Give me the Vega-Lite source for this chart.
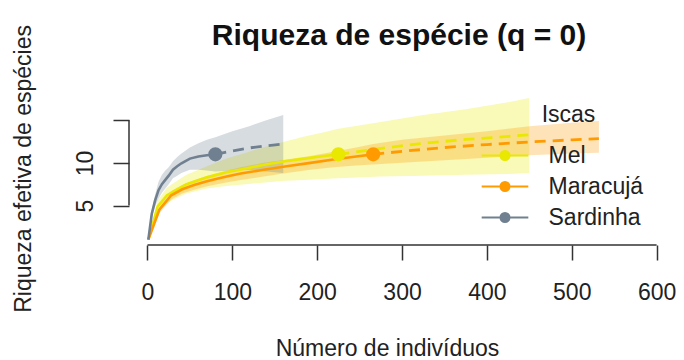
{
  "$schema": "https://vega.github.io/schema/vega-lite/v6.json",
  "autosize": {"type": "none"},
  "width": 550,
  "height": 153,
  "padding": {"left": 129, "top": 92, "right": 5, "bottom": 115},
  "background": "white",
  "config": {
    "view": {"stroke": null},
    "font": "Liberation Sans",
    "axis": {"grid": false, "domain": false}
  },
  "title": {
    "text": "Riqueza de espécie (q = 0)",
    "font": "Liberation Sans",
    "fontSize": 30,
    "fontWeight": "bold",
    "color": "#111111",
    "anchor": "middle",
    "frame": "group",
    "baseline": "alphabetic",
    "offset": -50,
    "dx": -5
  },
  "datasets": {
    "bands": [
      {"Iscas": "Mel", "n": 1, "lo": 1, "hi": 1},
      {"Iscas": "Mel", "n": 12, "lo": 4.2, "hi": 5.6},
      {"Iscas": "Mel", "n": 23, "lo": 5.3, "hi": 7.1},
      {"Iscas": "Mel", "n": 35, "lo": 5.9, "hi": 7.9},
      {"Iscas": "Mel", "n": 46, "lo": 6.4, "hi": 8.6},
      {"Iscas": "Mel", "n": 58, "lo": 6.7, "hi": 9.1},
      {"Iscas": "Mel", "n": 70, "lo": 7.0, "hi": 9.6},
      {"Iscas": "Mel", "n": 93, "lo": 7.3, "hi": 10.5},
      {"Iscas": "Mel", "n": 116, "lo": 7.5, "hi": 11.2},
      {"Iscas": "Mel", "n": 139, "lo": 7.7, "hi": 11.9},
      {"Iscas": "Mel", "n": 162, "lo": 7.9, "hi": 12.5},
      {"Iscas": "Mel", "n": 185, "lo": 8.0, "hi": 13.1},
      {"Iscas": "Mel", "n": 208, "lo": 8.1, "hi": 13.6},
      {"Iscas": "Mel", "n": 225, "lo": 8.2, "hi": 14.0},
      {"Iscas": "Mel", "n": 275, "lo": 8.4, "hi": 14.8},
      {"Iscas": "Mel", "n": 325, "lo": 8.5, "hi": 15.6},
      {"Iscas": "Mel", "n": 375, "lo": 8.6, "hi": 16.3},
      {"Iscas": "Mel", "n": 425, "lo": 8.7, "hi": 17.1},
      {"Iscas": "Mel", "n": 450, "lo": 8.8, "hi": 17.6},
      {"Iscas": "Maracujá", "n": 1, "lo": 1, "hi": 1},
      {"Iscas": "Maracujá", "n": 14, "lo": 4.1, "hi": 4.9},
      {"Iscas": "Maracujá", "n": 28, "lo": 5.7, "hi": 6.7},
      {"Iscas": "Maracujá", "n": 41, "lo": 6.4, "hi": 7.4},
      {"Iscas": "Maracujá", "n": 55, "lo": 6.85, "hi": 7.95},
      {"Iscas": "Maracujá", "n": 68, "lo": 7.2, "hi": 8.4},
      {"Iscas": "Maracujá", "n": 82, "lo": 7.5, "hi": 8.8},
      {"Iscas": "Maracujá", "n": 96, "lo": 7.75, "hi": 9.15},
      {"Iscas": "Maracujá", "n": 110, "lo": 8.0, "hi": 9.5},
      {"Iscas": "Maracujá", "n": 137, "lo": 8.4, "hi": 10.0},
      {"Iscas": "Maracujá", "n": 164, "lo": 8.8, "hi": 10.4},
      {"Iscas": "Maracujá", "n": 192, "lo": 9.2, "hi": 10.8},
      {"Iscas": "Maracujá", "n": 219, "lo": 9.5, "hi": 11.3},
      {"Iscas": "Maracujá", "n": 246, "lo": 9.7, "hi": 11.8},
      {"Iscas": "Maracujá", "n": 266, "lo": 9.8, "hi": 12.2},
      {"Iscas": "Maracujá", "n": 300, "lo": 10.0, "hi": 12.7},
      {"Iscas": "Maracujá", "n": 350, "lo": 10.3, "hi": 13.2},
      {"Iscas": "Maracujá", "n": 400, "lo": 10.6, "hi": 13.7},
      {"Iscas": "Maracujá", "n": 450, "lo": 10.9, "hi": 14.3},
      {"Iscas": "Maracujá", "n": 500, "lo": 11.1, "hi": 14.7},
      {"Iscas": "Maracujá", "n": 532, "lo": 11.2, "hi": 14.9},
      {"Iscas": "Sardinha", "n": 1, "lo": 1, "hi": 1},
      {"Iscas": "Sardinha", "n": 5, "lo": 3.6, "hi": 4.4},
      {"Iscas": "Sardinha", "n": 9, "lo": 4.9, "hi": 6.3},
      {"Iscas": "Sardinha", "n": 13, "lo": 5.8, "hi": 7.8},
      {"Iscas": "Sardinha", "n": 17, "lo": 6.5, "hi": 8.6},
      {"Iscas": "Sardinha", "n": 21, "lo": 7.0, "hi": 9.1},
      {"Iscas": "Sardinha", "n": 25, "lo": 7.5, "hi": 9.5},
      {"Iscas": "Sardinha", "n": 30, "lo": 8.2, "hi": 10.2},
      {"Iscas": "Sardinha", "n": 35, "lo": 8.5, "hi": 10.7},
      {"Iscas": "Sardinha", "n": 40, "lo": 8.8, "hi": 11.1},
      {"Iscas": "Sardinha", "n": 50, "lo": 9.2, "hi": 11.8},
      {"Iscas": "Sardinha", "n": 60, "lo": 9.2, "hi": 12.3},
      {"Iscas": "Sardinha", "n": 70, "lo": 9.1, "hi": 12.7},
      {"Iscas": "Sardinha", "n": 80, "lo": 9.0, "hi": 13.0},
      {"Iscas": "Sardinha", "n": 100, "lo": 9.1, "hi": 13.7},
      {"Iscas": "Sardinha", "n": 120, "lo": 9.2, "hi": 14.3},
      {"Iscas": "Sardinha", "n": 140, "lo": 9.0, "hi": 15.0},
      {"Iscas": "Sardinha", "n": 160, "lo": 8.8, "hi": 15.6}
    ],
    "curves": [
      {"Iscas": "Mel", "tipo": "interp", "n": 1, "S": 1},
      {"Iscas": "Mel", "tipo": "interp", "n": 12, "S": 4.9},
      {"Iscas": "Mel", "tipo": "interp", "n": 23, "S": 6.2},
      {"Iscas": "Mel", "tipo": "interp", "n": 35, "S": 6.9},
      {"Iscas": "Mel", "tipo": "interp", "n": 46, "S": 7.5},
      {"Iscas": "Mel", "tipo": "interp", "n": 58, "S": 7.9},
      {"Iscas": "Mel", "tipo": "interp", "n": 70, "S": 8.3},
      {"Iscas": "Mel", "tipo": "interp", "n": 93, "S": 8.9},
      {"Iscas": "Mel", "tipo": "interp", "n": 116, "S": 9.35},
      {"Iscas": "Mel", "tipo": "interp", "n": 139, "S": 9.8},
      {"Iscas": "Mel", "tipo": "interp", "n": 162, "S": 10.2},
      {"Iscas": "Mel", "tipo": "interp", "n": 185, "S": 10.5},
      {"Iscas": "Mel", "tipo": "interp", "n": 208, "S": 10.8},
      {"Iscas": "Mel", "tipo": "interp", "n": 225, "S": 11.0},
      {"Iscas": "Mel", "tipo": "extrap", "n": 225, "S": 11.0},
      {"Iscas": "Mel", "tipo": "extrap", "n": 275, "S": 11.7},
      {"Iscas": "Mel", "tipo": "extrap", "n": 325, "S": 12.3},
      {"Iscas": "Mel", "tipo": "extrap", "n": 375, "S": 12.75},
      {"Iscas": "Mel", "tipo": "extrap", "n": 425, "S": 13.1},
      {"Iscas": "Mel", "tipo": "extrap", "n": 450, "S": 13.3},
      {"Iscas": "Maracujá", "tipo": "interp", "n": 1, "S": 1},
      {"Iscas": "Maracujá", "tipo": "interp", "n": 14, "S": 4.5},
      {"Iscas": "Maracujá", "tipo": "interp", "n": 28, "S": 6.2},
      {"Iscas": "Maracujá", "tipo": "interp", "n": 41, "S": 6.9},
      {"Iscas": "Maracujá", "tipo": "interp", "n": 55, "S": 7.4},
      {"Iscas": "Maracujá", "tipo": "interp", "n": 68, "S": 7.8},
      {"Iscas": "Maracujá", "tipo": "interp", "n": 82, "S": 8.15},
      {"Iscas": "Maracujá", "tipo": "interp", "n": 96, "S": 8.45},
      {"Iscas": "Maracujá", "tipo": "interp", "n": 110, "S": 8.75},
      {"Iscas": "Maracujá", "tipo": "interp", "n": 137, "S": 9.2},
      {"Iscas": "Maracujá", "tipo": "interp", "n": 164, "S": 9.6},
      {"Iscas": "Maracujá", "tipo": "interp", "n": 192, "S": 10.0},
      {"Iscas": "Maracujá", "tipo": "interp", "n": 219, "S": 10.4},
      {"Iscas": "Maracujá", "tipo": "interp", "n": 246, "S": 10.75},
      {"Iscas": "Maracujá", "tipo": "interp", "n": 266, "S": 11.0},
      {"Iscas": "Maracujá", "tipo": "extrap", "n": 266, "S": 11.0},
      {"Iscas": "Maracujá", "tipo": "extrap", "n": 300, "S": 11.35},
      {"Iscas": "Maracujá", "tipo": "extrap", "n": 350, "S": 11.8},
      {"Iscas": "Maracujá", "tipo": "extrap", "n": 400, "S": 12.15},
      {"Iscas": "Maracujá", "tipo": "extrap", "n": 450, "S": 12.45},
      {"Iscas": "Maracujá", "tipo": "extrap", "n": 500, "S": 12.7},
      {"Iscas": "Maracujá", "tipo": "extrap", "n": 532, "S": 12.85},
      {"Iscas": "Sardinha", "tipo": "interp", "n": 1, "S": 1},
      {"Iscas": "Sardinha", "tipo": "interp", "n": 5, "S": 4.0},
      {"Iscas": "Sardinha", "tipo": "interp", "n": 9, "S": 5.6},
      {"Iscas": "Sardinha", "tipo": "interp", "n": 13, "S": 6.8},
      {"Iscas": "Sardinha", "tipo": "interp", "n": 17, "S": 7.5},
      {"Iscas": "Sardinha", "tipo": "interp", "n": 21, "S": 8.0},
      {"Iscas": "Sardinha", "tipo": "interp", "n": 25, "S": 8.5},
      {"Iscas": "Sardinha", "tipo": "interp", "n": 30, "S": 9.2},
      {"Iscas": "Sardinha", "tipo": "interp", "n": 35, "S": 9.6},
      {"Iscas": "Sardinha", "tipo": "interp", "n": 40, "S": 9.95},
      {"Iscas": "Sardinha", "tipo": "interp", "n": 50, "S": 10.5},
      {"Iscas": "Sardinha", "tipo": "interp", "n": 60, "S": 10.75},
      {"Iscas": "Sardinha", "tipo": "interp", "n": 70, "S": 10.9},
      {"Iscas": "Sardinha", "tipo": "interp", "n": 80, "S": 11.0},
      {"Iscas": "Sardinha", "tipo": "extrap", "n": 80, "S": 11.0},
      {"Iscas": "Sardinha", "tipo": "extrap", "n": 100, "S": 11.4},
      {"Iscas": "Sardinha", "tipo": "extrap", "n": 120, "S": 11.75},
      {"Iscas": "Sardinha", "tipo": "extrap", "n": 140, "S": 12.0},
      {"Iscas": "Sardinha", "tipo": "extrap", "n": 160, "S": 12.2}
    ],
    "obs": [
      {"Iscas": "Mel", "n": 225, "S": 11.0},
      {"Iscas": "Maracujá", "n": 266, "S": 11.0},
      {"Iscas": "Sardinha", "n": 80, "S": 11.0}
    ]
  },
  "layer": [
    {
      "data": {"name": "bands"},
      "mark": {"type": "area", "opacity": 0.28},
      "encoding": {
        "x": {
          "field": "n", "type": "quantitative",
          "scale": {"domain": [-21.8, 626.4], "nice": false, "zero": false},
          "axis": {
            "values": [0, 100, 200, 300, 400, 500, 600],
            "tickSize": 15, "tickColor": "#333333", "tickWidth": 1.5,
            "labelFont": "Liberation Sans", "labelFontSize": 23, "labelColor": "#222222",
            "labelBaseline": "alphabetic", "labelPadding": 39, "labelFlush": false, "labelOverlap": false,
            "title": "Número de indivíduos",
            "titleFont": "Liberation Sans", "titleFontSize": 23, "titleFontWeight": "normal", "titleColor": "#222222",
            "titleX": 258, "titleY": 110.5, "titleAlign": "center", "titleBaseline": "alphabetic"
          }
        },
        "y": {
          "field": "lo", "type": "quantitative",
          "scale": {"domain": [0.37, 18.31], "nice": false, "zero": false},
          "axis": {
            "values": [5, 10, 15],
            "labelExpr": "datum.value == 15 ? '' : datum.label",
            "tickSize": 16, "tickColor": "#333333", "tickWidth": 1.5,
            "labelFont": "Liberation Sans", "labelFontSize": 23, "labelColor": "#222222",
            "labelAngle": -90, "labelAlign": "center", "labelBaseline": "alphabetic", "labelPadding": 21, "labelOverlap": false, "labelFlush": false,
            "title": "Riqueza efetiva de espécies",
            "titleFont": "Liberation Sans", "titleFontSize": 23, "titleFontWeight": "normal", "titleColor": "#222222",
            "titleX": -99, "titleY": 76.4, "titleAngle": -90, "titleAlign": "center", "titleBaseline": "alphabetic"
          }
        },
        "y2": {"field": "hi"},
        "color": {
          "field": "Iscas", "type": "nominal",
          "scale": {"domain": ["Mel", "Maracujá", "Sardinha"], "range": ["#E8E800", "#FF9B00", "#708090"]},
          "legend": {
            "orient": "none", "legendX": 364.5, "legendY": 12,
            "title": "Iscas",
            "titleFont": "Liberation Sans", "titleFontSize": 23, "titleFontWeight": "normal", "titleColor": "#222222",
            "titleAnchor": "middle", "titlePadding": 17,
            "labelFont": "Liberation Sans", "labelFontSize": 23, "labelColor": "#222222", "labelOffset": 32,
            "symbolType": "M-4.24,0L4.24,0M-0.82,0A0.82,0.82,0,1,1,0.82,0A0.82,0.82,0,1,1,-0.82,0Z",
            "symbolSize": 121, "symbolStrokeWidth": 2, "symbolOpacity": 1, "rowPadding": 7, "padding": 0,
            "encode": {
              "symbols": {
                "update": {
                  "fill": {"scale": "color", "field": "value"},
                  "stroke": {"scale": "color", "field": "value"},
                  "opacity": {"value": 1},
                  "fillOpacity": {"value": 1},
                  "strokeOpacity": {"value": 1}
                }
              }
            }
          }
        }
      }
    },
    {
      "data": {"name": "curves"},
      "transform": [{"filter": "datum.tipo == 'interp'"}],
      "mark": {"type": "line", "strokeWidth": 2.6},
      "encoding": {
        "x": {"field": "n", "type": "quantitative"},
        "y": {"field": "S", "type": "quantitative"},
        "color": {"field": "Iscas", "type": "nominal"}
      }
    },
    {
      "data": {"name": "curves"},
      "transform": [{"filter": "datum.tipo == 'extrap'"}],
      "mark": {"type": "line", "strokeWidth": 2.8, "strokeDash": [11, 7]},
      "encoding": {
        "x": {"field": "n", "type": "quantitative"},
        "y": {"field": "S", "type": "quantitative"},
        "color": {"field": "Iscas", "type": "nominal"}
      }
    },
    {
      "data": {"name": "obs"},
      "mark": {"type": "point", "filled": true, "opacity": 1, "size": 200},
      "encoding": {
        "x": {"field": "n", "type": "quantitative"},
        "y": {"field": "S", "type": "quantitative"},
        "color": {"field": "Iscas", "type": "nominal"}
      }
    },
    {
      "data": {"values": [{}]},
      "mark": {"type": "rule", "color": "#333333", "strokeWidth": 1.5},
      "encoding": {
        "x": {"datum": 0},
        "x2": {"datum": 600},
        "y": {"datum": 0.37}
      }
    },
    {
      "data": {"values": [{}]},
      "mark": {"type": "rule", "color": "#333333", "strokeWidth": 1.5},
      "encoding": {
        "x": {"datum": -21.8},
        "y": {"datum": 5},
        "y2": {"datum": 15}
      }
    }
  ]
}
